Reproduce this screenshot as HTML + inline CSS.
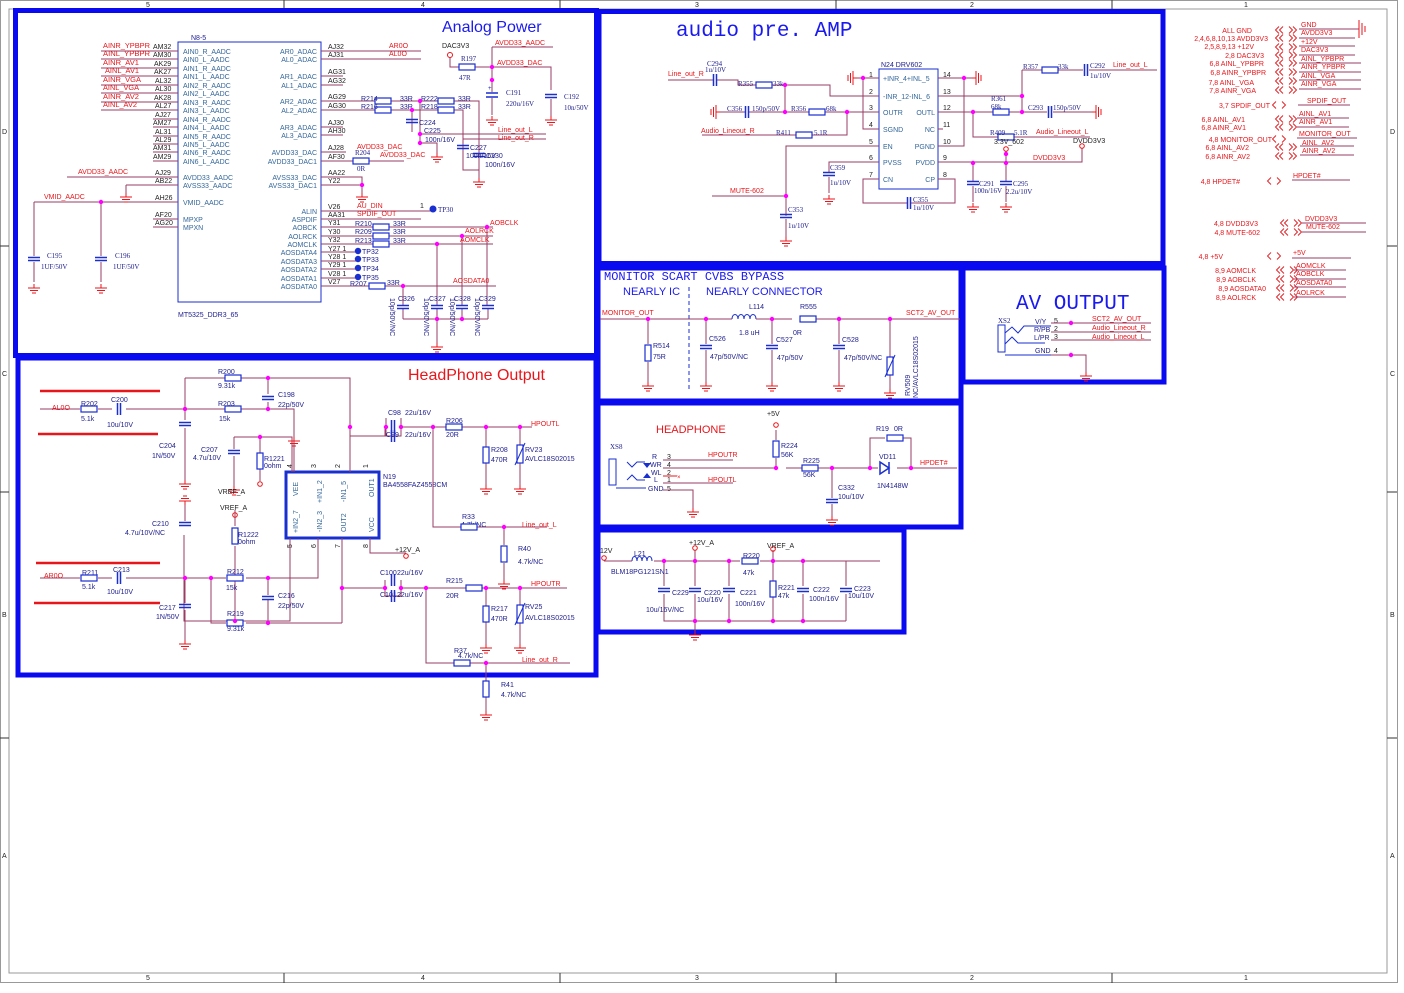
<!DOCTYPE html>
<html><head><meta charset="utf-8"><style>
html,body{margin:0;padding:0;background:#fff;}
svg{display:block;}
text{font-family:"Liberation Sans",sans-serif;}
.r{fill:#e8161b;font-size:7px;}
.b{fill:#1c1c8c;font-size:7px;font-family:"Liberation Serif",serif;}
.p{fill:#34679a;font-size:7px;}
.k{fill:#222;font-size:7px;}
.w{stroke:#9a3c64;stroke-width:1;fill:none;}
.f{fill:none;stroke:#0a0af0;stroke-width:5;}
.cmp{fill:#fff;stroke:#1a2fd0;stroke-width:1.2;}
.cap{stroke:#1a2fd0;stroke-width:1.5;}
</style></head><body>
<svg width="1404" height="993" viewBox="0 0 1404 993" xmlns="http://www.w3.org/2000/svg">
<defs>
<g id="g"><path d="M0,0v4M-6,4h12M-4,6.5h8M-2,9h4" stroke="#e8161b" stroke-width="1" fill="none"/></g>
<g id="rv"><rect x="-3" y="-8" width="6" height="16" class="cmp"/></g>
<g id="rh"><rect x="-8" y="-3" width="16" height="6" class="cmp"/></g>
<g id="cv"><path d="M-6,-1.5h12M-6,1.5h12" class="cap"/></g>
<g id="ch"><path d="M-1.5,-6v12M1.5,-6v12" class="cap"/></g>
<g id="dt"><circle r="2.2" fill="#f0f"/></g>
<g id="gl"><path d="M0,0h-4M-4,-7v14M-6.5,-5v10M-9,-3v6" stroke="#e8161b" fill="none"/></g>
<g id="gr"><path d="M0,0h4M4,-7v14M6.5,-5v10M9,-3v6" stroke="#e8161b" fill="none"/></g>
<g id="c2"><path d="M4,-3.5l-3.5,3.5l3.5,3.5M8,-3.5l-3.5,3.5l3.5,3.5M14,-3.5l3.5,3.5l-3.5,3.5M18,-3.5l3.5,3.5l-3.5,3.5" stroke="#e8161b" stroke-width="0.9" fill="none"/></g>
<g id="c1"><path d="M4,-3.5l-3.5,3.5l3.5,3.5M10,-3.5l3.5,3.5l-3.5,3.5" stroke="#e8161b" stroke-width="0.9" fill="none"/></g>
</defs>
<rect x="0.5" y="0.5" width="1397" height="982" fill="none" stroke="#999"/>
<rect x="9" y="9" width="1378" height="964" fill="none" stroke="#999"/>
<path d="M284,0v9M560,0v9M836,0v9M1112,0v9M284,973v10M560,973v10M836,973v10M1112,973v10M0,246h9M0,492h9M0,738h9M1387,246h10M1387,492h10M1387,738h10" stroke="#333"/>
<text x="146" y="7" class="k" font-size="6">5</text><text x="421" y="7" class="k" font-size="6">4</text><text x="695" y="7" class="k" font-size="6">3</text><text x="970" y="7" class="k" font-size="6">2</text><text x="1244" y="7" class="k" font-size="6">1</text>
<text x="146" y="980" class="k" font-size="6">5</text><text x="421" y="980" class="k" font-size="6">4</text><text x="695" y="980" class="k" font-size="6">3</text><text x="970" y="980" class="k" font-size="6">2</text><text x="1244" y="980" class="k" font-size="6">1</text>
<text x="2" y="134" class="k" font-size="6">D</text><text x="2" y="376" class="k" font-size="6">C</text><text x="2" y="617" class="k" font-size="6">B</text><text x="2" y="858" class="k" font-size="6">A</text>
<text x="1390" y="134" class="k" font-size="6">D</text><text x="1390" y="376" class="k" font-size="6">C</text><text x="1390" y="617" class="k" font-size="6">B</text><text x="1390" y="858" class="k" font-size="6">A</text>

<rect x="15.5" y="10.5" width="581" height="345" class="f"/>
<rect x="599" y="11.5" width="564" height="252" class="f"/>
<rect x="18" y="358" width="578" height="317" class="f"/>
<rect x="598" y="268" width="363" height="133" class="f"/>
<rect x="963" y="268" width="201" height="114" class="f"/>
<rect x="598" y="403" width="363" height="124" class="f"/>
<rect x="598" y="530" width="306" height="102" class="f"/>

<!-- ============ ANALOG POWER ============ -->
<text x="442" y="32" fill="#1a1af0" font-size="16">Analog Power</text>
<rect x="178" y="42" width="143" height="260" fill="none" stroke="#1a2fd0" stroke-width="1"/>
<text x="191" y="40" fill="#1c1c8c" font-size="7">N8-5</text>
<text x="178" y="317" fill="#1c1c8c" font-size="7">MT5325_DDR3_65</text>
<g class="p">
<text x="183" y="54">AIN0_R_AADC</text><text x="183" y="62">AIN0_L_AADC</text><text x="183" y="71">AIN1_R_AADC</text><text x="183" y="79">AIN1_L_AADC</text>
<text x="183" y="88">AIN2_R_AADC</text><text x="183" y="96">AIN2_L_AADC</text><text x="183" y="105">AIN3_R_AADC</text><text x="183" y="113">AIN3_L_AADC</text>
<text x="183" y="122">AIN4_R_AADC</text><text x="183" y="130">AIN4_L_AADC</text><text x="183" y="139">AIN5_R_AADC</text><text x="183" y="147">AIN5_L_AADC</text>
<text x="183" y="155">AIN6_R_AADC</text><text x="183" y="164">AIN6_L_AADC</text>
<text x="183" y="180">AVDD33_AADC</text><text x="183" y="188">AVSS33_AADC</text><text x="183" y="205">VMID_AADC</text>
<text x="183" y="222">MPXP</text><text x="183" y="230">MPXN</text>
</g>
<g class="p" text-anchor="end">
<text x="317" y="54">AR0_ADAC</text><text x="317" y="62">AL0_ADAC</text><text x="317" y="79">AR1_ADAC</text><text x="317" y="88">AL1_ADAC</text>
<text x="317" y="104">AR2_ADAC</text><text x="317" y="113">AL2_ADAC</text><text x="317" y="130">AR3_ADAC</text><text x="317" y="138">AL3_ADAC</text>
<text x="317" y="155">AVDD33_DAC</text><text x="317" y="164">AVDD33_DAC1</text><text x="317" y="180">AVSS33_DAC</text><text x="317" y="188">AVSS33_DAC1</text>
<text x="317" y="214">ALIN</text><text x="317" y="222">ASPDIF</text><text x="317" y="230">AOBCK</text><text x="317" y="239">AOLRCK</text><text x="317" y="247">AOMCLK</text>
<text x="317" y="255">AOSDATA4</text><text x="317" y="264">AOSDATA3</text><text x="317" y="272">AOSDATA2</text><text x="317" y="281">AOSDATA1</text><text x="317" y="289">AOSDATA0</text>
</g>
<path class="w" d="M101,51h77M101,59h77M101,68h77M101,76h77M101,85h77M101,93h77M101,102h77M101,110h77M153,119h25M153,127h25M153,136h25M153,144h25M153,152h25M153,161h25M67,177h111M126,185h52M34,202h144M153,219h25M153,227h25"/>
<g class="r" font-size="6.5"><text x="103" y="48" textLength="47" lengthAdjust="spacingAndGlyphs">AINR_YPBPR</text><text x="103" y="56" textLength="47" lengthAdjust="spacingAndGlyphs">AINL_YPBPR</text><text x="103" y="65" textLength="36" lengthAdjust="spacingAndGlyphs">AINR_AV1</text><text x="105" y="73" textLength="34" lengthAdjust="spacingAndGlyphs">AINL_AV1</text><text x="103" y="82" textLength="38" lengthAdjust="spacingAndGlyphs">AINR_VGA</text><text x="103" y="90" textLength="36" lengthAdjust="spacingAndGlyphs">AINL_VGA</text><text x="103" y="99" textLength="36" lengthAdjust="spacingAndGlyphs">AINR_AV2</text><text x="103" y="107" textLength="34" lengthAdjust="spacingAndGlyphs">AINL_AV2</text>
<text x="78" y="174">AVDD33_AADC</text><text x="44" y="199">VMID_AADC</text></g>
<g class="k" font-size="6.5"><text x="153" y="49">AM32</text><text x="153" y="57">AM30</text><text x="154" y="66">AK29</text><text x="154" y="74">AK27</text><text x="155" y="83">AL32</text><text x="155" y="91">AL30</text><text x="154" y="100">AK28</text><text x="155" y="108">AL27</text><text x="155" y="117">AJ27</text><text x="153" y="125">AM27</text><text x="155" y="134">AL31</text><text x="155" y="142">AL29</text><text x="153" y="150">AM31</text><text x="153" y="159">AM29</text><text x="155" y="175">AJ29</text><text x="155" y="183">AB22</text><text x="155" y="200">AH26</text><text x="155" y="217">AF20</text><text x="155" y="225">AG20</text></g>
<path class="w" d="M126,185v8M34,202v54M101,202v54M34,262v20M101,262v20"/>
<use href="#g" x="126" y="193"/><use href="#dt" x="101" y="202"/>
<use href="#cv" x="34" y="259"/><use href="#cv" x="101" y="259"/><use href="#g" x="34" y="284"/><use href="#g" x="101" y="284"/>
<text x="47" y="258" class="b">C195</text><text x="41" y="269" class="b">1UF/50V</text><text x="115" y="258" class="b">C196</text><text x="113" y="269" class="b">1UF/50V</text>
<!-- right pins -->
<path class="w" d="M321,51h100M321,59h100M321,76h22M321,85h22M321,101h54M391,101h47M454,101h25v77M321,110h54M391,110h47M454,110h9v60h16M321,127h22M321,135h22M321,152h25M321,161h32M369,161h35M321,177h41v16M321,185h41M321,211h112M321,219h100M321,227h52M389,227h104M321,236h52M389,236h104M321,244h52M389,244h104M321,252h37M321,261h37M321,269h37M321,278h37M321,286h48M385,286h111"/>
<path class="w" d="M420,101v42h17v10M412,110v22M420,134h126M463,139h83M487,227v79M462,236v70M437,244v62M403,286v20M403,319h85M437,319v24M403,309v10M437,309v10M462,309v10M488,309v10"/>
<g class="k" font-size="6.5"><text x="328" y="49">AJ32</text><text x="328" y="57">AJ31</text><text x="328" y="74">AG31</text><text x="328" y="83">AG32</text><text x="328" y="99">AG29</text><text x="328" y="108">AG30</text><text x="328" y="125">AJ30</text><text x="328" y="133">AH30</text><text x="328" y="150">AJ28</text><text x="328" y="159">AF30</text><text x="328" y="175">AA22</text><text x="328" y="183">Y22</text><text x="328" y="209">V26</text><text x="328" y="217">AA31</text><text x="328" y="225">Y31</text><text x="328" y="234">Y30</text><text x="328" y="242">Y32</text><text x="328" y="251">Y27  1</text><text x="328" y="259">Y28  1</text><text x="328" y="267">Y29  1</text><text x="328" y="276">V28  1</text><text x="328" y="284">V27</text></g>
<g class="r"><text x="389" y="48">AR0O</text><text x="389" y="56">AL0O</text><text x="357" y="208">AU_DIN</text><text x="357" y="216">SPDIF_OUT</text><text x="490" y="225">AOBCLK</text><text x="465" y="233">AOLRCK</text><text x="460" y="242">AOMCLK</text><text x="453" y="283">AOSDATA0</text>
<text x="357" y="149">AVDD33_DAC</text><text x="380" y="157">AVDD33_DAC</text><text x="495" y="45">AVDD33_AADC</text><text x="497" y="65">AVDD33_DAC</text><text x="498" y="132">Line_out_L</text><text x="498" y="140">Line_out_R</text></g>
<use href="#g" x="362" y="193"/><use href="#dt" x="362" y="185"/>
<use href="#rh" x="361" y="161"/><text x="355" y="155" class="b">R204</text><text x="357" y="171" class="b">0R</text>
<circle cx="433" cy="209" r="3.5" fill="#1a2fd0"/><text x="438" y="212" class="b" font-size="7.5">TP30</text><text x="420" y="208" class="k" font-size="6">1</text>
<circle cx="358" cy="251" r="3.2" fill="#1a2fd0"/><circle cx="358" cy="259" r="3.2" fill="#1a2fd0"/><circle cx="358" cy="268" r="3.2" fill="#1a2fd0"/><circle cx="358" cy="277" r="3.2" fill="#1a2fd0"/>
<g class="b"><text x="362" y="254">TP32</text><text x="362" y="262">TP33</text><text x="362" y="271">TP34</text><text x="362" y="280">TP35</text></g>
<use href="#rh" x="381" y="227"/><use href="#rh" x="381" y="236"/><use href="#rh" x="381" y="244"/><use href="#rh" x="377" y="286"/>
<g class="b"><text x="355" y="226">R210</text><text x="393" y="226">33R</text><text x="355" y="234">R209</text><text x="393" y="234">33R</text><text x="355" y="243">R213</text><text x="393" y="243">33R</text><text x="350" y="286">R207</text><text x="387" y="285">33R</text></g>
<use href="#cv" x="403" y="307"/><use href="#cv" x="437" y="307"/><use href="#cv" x="462" y="307"/><use href="#cv" x="488" y="307"/>
<use href="#g" x="437" y="343"/><use href="#dt" x="487" y="227"/><use href="#dt" x="462" y="236"/><use href="#dt" x="437" y="244"/><use href="#dt" x="403" y="286"/><use href="#dt" x="437" y="319"/><use href="#dt" x="462" y="319"/>
<g class="b"><text x="398" y="301">C326</text><text x="429" y="301">C327</text><text x="454" y="301">C328</text><text x="479" y="301">C329</text></g>
<g class="b" font-size="6.5"><text transform="translate(390,298) rotate(90)">10p/50V/NC</text><text transform="translate(424,298) rotate(90)">10p/50V/NC</text><text transform="translate(450,298) rotate(90)">10p/50V/NC</text><text transform="translate(475,298) rotate(90)">10p/50V/NC</text></g>
<use href="#rh" x="383" y="101"/><use href="#rh" x="383" y="110"/><use href="#rh" x="446" y="101"/><use href="#rh" x="446" y="110"/>
<g class="b"><text x="361" y="101">R214</text><text x="400" y="101">33R</text><text x="361" y="109">R216</text><text x="400" y="109">33R</text><text x="421" y="101">R222</text><text x="458" y="101">33R</text><text x="421" y="109">R218</text><text x="458" y="109">33R</text></g>
<use href="#cv" x="412" y="121"/><use href="#cv" x="463" y="147"/><use href="#cv" x="479" y="155"/><use href="#g" x="437" y="153"/><use href="#g" x="479" y="178"/>
<use href="#dt" x="420" y="101"/><use href="#dt" x="412" y="110"/><use href="#dt" x="420" y="143"/><use href="#dt" x="420" y="134"/>
<g class="b"><text x="419" y="125">C224</text><text x="424" y="133">C225</text><text x="425" y="142">100n/16V</text><text x="470" y="150">C227</text><text x="466" y="158">100n/16V</text><text x="486" y="158">C230</text><text x="485" y="167">100n/16V</text></g>
<circle cx="450" cy="55" r="2.5" fill="none" stroke="#e8161b"/><text x="442" y="48" class="k">DAC3V3</text>
<path class="w" d="M450,58v9h9M475,67h17M492,47h61M492,47v20M492,67h59v23M551,99v17M492,67v25M492,98v17"/>
<use href="#rh" x="467" y="67"/><text x="461" y="61" class="b">R197</text><text x="459" y="80" class="b">47R</text>
<use href="#dt" x="492" y="67"/><use href="#dt" x="492" y="80"/>
<path d="M486,93h12M486,97h12" class="cap"/><text x="488" y="90" fill="#1a2fd0" font-size="6">+</text>
<use href="#cv" x="551" y="96"/><use href="#g" x="492" y="116"/><use href="#g" x="551" y="116"/>
<text x="506" y="95" class="b">C191</text><text x="506" y="106" class="b">220u/16V</text><text x="564" y="99" class="b">C192</text><text x="564" y="110" class="b">10n/50V</text>

<!-- ============ AUDIO PRE AMP ============ -->
<text x="676" y="36" fill="#1a1af0" font-size="21" style="font-family:'Liberation Mono',monospace">audio pre. AMP</text>
<rect x="879" y="69" width="59" height="120" fill="#fff" stroke="#1a2fd0" stroke-width="1"/>
<text x="881" y="67" fill="#1c1c8c" font-size="7">N24  DRV602</text>
<g class="p" font-size="6.3"><text x="883" y="81">+INR_4+INL_5</text><text x="883" y="99">-INR_12-INL_6</text><text x="883" y="115">OUTR</text><text x="883" y="132">SGND</text><text x="883" y="149">EN</text><text x="883" y="165">PVSS</text><text x="883" y="182">CN</text></g>
<g class="p" font-size="6.3" text-anchor="end"><text x="935" y="115">OUTL</text><text x="935" y="132">NC</text><text x="935" y="149">PGND</text><text x="935" y="165">PVDD</text><text x="935" y="182">CP</text></g>
<g class="k" font-size="6.5"><text x="869" y="77">1</text><text x="869" y="94">2</text><text x="869" y="110">3</text><text x="869" y="127">4</text><text x="869" y="144">5</text><text x="869" y="160">6</text><text x="869" y="177">7</text><text x="943" y="77">14</text><text x="943" y="94">13</text><text x="943" y="110">12</text><text x="943" y="127">11</text><text x="943" y="144">10</text><text x="943" y="160">9</text><text x="943" y="177">8</text></g>
<path class="w" d="M857,78h22M863,78v51h16M785,85h45v11h49M720,112h25M749,112h60M825,112h54M785,85v27M847,112v23h-35M796,135h-94M668,80h45M717,80h21v5h18M772,85h13M879,146h-93v70M712,196h74M786,219v18M879,162h-50v10M829,177v16M879,179h-16v24h44M911,203h44v-24h-17"/>
<path class="w" d="M938,78h34M964,78v68h-26M938,96h84M1022,70v42M1022,70h20M1058,70h25M1089,70h68M938,112h55M1009,112h38M1053,112h39M973,112v25h25M1014,137h76M938,162h144v-14M1006,151v12M973,163v18M973,186v16M1006,163v18M1006,186v16M938,129h5"/>
<use href="#gl" x="857" y="78"/><use href="#gl" x="720" y="112"/><use href="#gr" x="972" y="78"/><use href="#gr" x="1092" y="112"/>
<use href="#ch" x="715" y="80"/><text x="707" y="66" class="b">C294</text><text x="705" y="72" class="b">1u/10V</text><text x="668" y="76" class="r">Line_out_R</text>
<use href="#rh" x="764" y="85"/><text x="738" y="86" class="b">R355</text><text x="773" y="86" class="b">33k</text><use href="#dt" x="785" y="85"/>
<use href="#ch" x="747" y="112"/><text x="727" y="111" class="b">C356</text><text x="752" y="111" class="b">150p/50V</text>
<use href="#rh" x="817" y="112"/><text x="791" y="111" class="b">R356</text><text x="826" y="111" class="b">68k</text><use href="#dt" x="785" y="112"/><use href="#dt" x="847" y="112"/>
<use href="#rh" x="804" y="135"/><text x="776" y="135" class="b">R411</text><text x="814" y="135" class="b">5.1R</text><text x="701" y="133" class="r">Audio_Lineout_R</text>
<text x="730" y="193" class="r">MUTE-602</text><use href="#dt" x="786" y="196"/><use href="#cv" x="786" y="216"/><use href="#g" x="786" y="237"/><text x="788" y="212" class="b">C353</text><text x="788" y="228" class="b">1u/10V</text>
<use href="#cv" x="829" y="174"/><use href="#g" x="829" y="195"/><text x="830" y="170" class="b">C359</text><text x="830" y="185" class="b">1u/10V</text>
<use href="#ch" x="909" y="203"/><text x="913" y="202" class="b">C355</text><text x="913" y="210" class="b">1u/10V</text>
<use href="#dt" x="863" y="78"/><use href="#dt" x="964" y="78"/>
<use href="#rh" x="1050" y="70"/><text x="1023" y="69" class="b">R357</text><text x="1058" y="69" class="b">33k</text><use href="#ch" x="1086" y="70"/><text x="1090" y="68" class="b">C292</text><text x="1090" y="78" class="b">1u/10V</text><text x="1113" y="67" class="r">Line_out_L</text>
<use href="#dt" x="1022" y="96"/><use href="#dt" x="1022" y="112"/><use href="#dt" x="973" y="112"/>
<use href="#rh" x="1001" y="112"/><text x="991" y="101" class="b">R361</text><text x="991" y="109" class="b">68k</text>
<use href="#ch" x="1050" y="112"/><text x="1028" y="110" class="b">C293</text><text x="1053" y="110" class="b">150p/50V</text>
<use href="#rh" x="1006" y="137"/><text x="990" y="135" class="b">R409</text><text x="1014" y="135" class="b">5.1R</text><text x="1036" y="134" class="r">Audio_Lineout_L</text>
<text x="994" y="144" class="k">3.3V_602</text><circle cx="1006" cy="149" r="2.3" fill="none" stroke="#e8161b"/><circle cx="1082" cy="146" r="2.3" fill="none" stroke="#e8161b"/><text x="1073" y="143" class="k">DVDD3V3</text>
<text x="1033" y="160" class="r">DVDD3V3</text><use href="#dt" x="973" y="163"/><use href="#dt" x="1006" y="163"/><use href="#dt" x="1006" y="154"/>
<use href="#cv" x="973" y="183"/><use href="#cv" x="1006" y="183"/><use href="#g" x="973" y="203"/><use href="#g" x="1006" y="203"/>
<text x="979" y="186" class="b">C291</text><text x="974" y="193" class="b">100n/16V</text><text x="1013" y="186" class="b">C295</text><text x="1006" y="194" class="b">2.2u/10V</text>

<!-- ============ RIGHT NET LIST ============ -->
<g class="r" text-anchor="end">
<text x="1252" y="33">ALL   GND</text><text x="1268" y="41">2,4,6,8,10,13  AVDD3V3</text><text x="1254" y="49">2,5,8,9,13   +12V</text><text x="1264" y="58">2,8   DAC3V3</text>
<text x="1264" y="66">6,8   AINL_YPBPR</text><text x="1266" y="75">6,8   AINR_YPBPR</text><text x="1254" y="85">7,8   AINL_VGA</text><text x="1256" y="93">7,8   AINR_VGA</text>
<text x="1270" y="108">3,7    SPDIF_OUT</text><text x="1245" y="122">6,8   AINL_AV1</text><text x="1246" y="130">6,8   AINR_AV1</text>
<text x="1272" y="142">4,8  MONITOR_OUT</text><text x="1249" y="150">6,8   AINL_AV2</text><text x="1250" y="159">6,8   AINR_AV2</text>
<text x="1240" y="184">4,8  HPDET#</text><text x="1258" y="226">4,8  DVDD3V3</text><text x="1260" y="235">4,8  MUTE-602</text>
<text x="1223" y="259">4,8  +5V</text><text x="1256" y="273">8,9  AOMCLK</text><text x="1256" y="282">8,9  AOBCLK</text><text x="1266" y="291">8,9  AOSDATA0</text><text x="1256" y="300">8,9  AOLRCK</text>
</g>
<use href="#c2" x="1275" y="30"/><use href="#c2" x="1275" y="38"/><use href="#c2" x="1275" y="47"/><use href="#c2" x="1275" y="55"/><use href="#c2" x="1275" y="63"/><use href="#c2" x="1275" y="72"/><use href="#c2" x="1275" y="81"/><use href="#c2" x="1275" y="90"/>
<use href="#c1" x="1272" y="105"/><use href="#c2" x="1275" y="119"/><use href="#c2" x="1275" y="127"/><use href="#c1" x="1272" y="139"/><use href="#c2" x="1275" y="147"/><use href="#c2" x="1275" y="156"/>
<use href="#c1" x="1267" y="181"/><use href="#c2" x="1280" y="223"/><use href="#c2" x="1280" y="232"/><use href="#c1" x="1267" y="256"/>
<use href="#c2" x="1276" y="270"/><use href="#c2" x="1276" y="279"/><use href="#c2" x="1276" y="288"/><use href="#c2" x="1276" y="297"/>
<g class="r"><text x="1301" y="27">GND</text><text x="1301" y="35">AVDD3V3</text><text x="1301" y="44">+12V</text><text x="1301" y="52">DAC3V3</text><text x="1301" y="61">AINL_YPBPR</text><text x="1301" y="69">AINR_YPBPR</text><text x="1301" y="78">AINL_VGA</text><text x="1301" y="86">AINR_VGA</text>
<text x="1307" y="103">SPDIF_OUT</text><text x="1299" y="116">AINL_AV1</text><text x="1299" y="124">AINR_AV1</text><text x="1299" y="136">MONITOR_OUT</text><text x="1302" y="145">AINL_AV2</text><text x="1302" y="153">AINR_AV2</text>
<text x="1293" y="178">HPDET#</text><text x="1305" y="221">DVDD3V3</text><text x="1306" y="229">MUTE-602</text><text x="1293" y="255">+5V</text>
<text x="1296" y="268">AOMCLK</text><text x="1296" y="276">AOBCLK</text><text x="1296" y="285">AOSDATA0</text><text x="1296" y="295">AOLRCK</text></g>
<path class="w" d="M1299,29h60M1299,38h56M1299,46h56M1299,55h56M1299,63h62M1299,72h62M1299,80h62M1299,89h62M1298,105h52M1297,118h52M1297,127h52M1297,138h60M1300,146h54M1300,155h54M1292,180h58M1302,223h64M1302,232h64M1292,258h59M1294,270h52M1294,279h52M1294,287h52M1294,297h52"/>
<path d="M1359,20v18M1362,23v12M1365,26v6" stroke="#e8161b"/>

<!-- ============ HEADPHONE OUTPUT ============ -->
<text x="408" y="380" fill="#e8161b" font-size="16">HeadPhone Output</text>
<path d="M40,391h120M38,434h120M36,563h124M34,603h126" stroke="#e8161b" stroke-width="2.5"/>
<rect x="286" y="472" width="93" height="66" fill="#fff" stroke="#1a2fd0" stroke-width="3"/>
<g class="p" font-size="7.5"><text transform="translate(298,496) rotate(-90)">VEE</text><text transform="translate(322,503) rotate(-90)">+IN1_2</text><text transform="translate(346,502) rotate(-90)">-IN1_5</text><text transform="translate(374,497) rotate(-90)">OUT1</text>
<text transform="translate(298,533) rotate(-90)">+IN2_7</text><text transform="translate(322,532) rotate(-90)">-IN2_3</text><text transform="translate(346,532) rotate(-90)">OUT2</text><text transform="translate(374,532) rotate(-90)">VCC</text></g>
<text x="383" y="479" fill="#1c1c8c" font-size="7">N19</text><text x="383" y="487" fill="#1c1c8c" font-size="7">BA4558FAZ4558CM</text>
<g class="k" font-size="6"><text transform="translate(292,468) rotate(-90)">4</text><text transform="translate(316,468) rotate(-90)">3</text><text transform="translate(340,468) rotate(-90)">2</text><text transform="translate(368,468) rotate(-90)">1</text><text transform="translate(292,548) rotate(-90)">5</text><text transform="translate(316,548) rotate(-90)">6</text><text transform="translate(340,548) rotate(-90)">7</text><text transform="translate(368,548) rotate(-90)">8</text></g>
<path class="w" d="M40,409h40M98,409h14M126,409h59M185,409h40M241,409h53V472M185,378h40M241,378h109V472M185,378v42M185,428v52M268,378v16M268,402v7M234,437h58v35M234,437v12M234,456v30M260,437v16M260,469v12M40,578h40M98,578h14M126,578h100M246,578h72v-40M185,578v25M185,610v30M211,578v45h15M246,623h96M342,538v85M268,578v17M268,600v23M342,588h43M401,588h25M290,538v83h-106V535M235,510v16M235,546v75M370,538v15h36M350,418v18h36M386,418v18M401,418v18M401,427h45M462,427h70M486,427v20M486,463v22M520,427v18M520,463v22M433,427v100h28M477,527h70M504,527v18M504,563v17M426,588v75h28M470,663h100M486,663v18M486,697v14M426,588h40M482,588h85M486,588v18M486,622v22M520,588v18M520,622v22M385,580v16h16v-16M385,426v10h16v-10"/>
<path class="w" d="M294,445v27"/>
<use href="#rh" x="89" y="409"/><use href="#ch" x="119" y="409"/><use href="#rh" x="233" y="409"/><use href="#rh" x="233" y="378"/><use href="#cv" x="268" y="398"/><use href="#cv" x="185" y="424"/><use href="#cv" x="234" y="452"/>
<use href="#rv" x="260" y="461"/><circle cx="260" cy="484" r="2.3" fill="none" stroke="#e8161b"/>
<use href="#g" x="185" y="480"/><use href="#g" x="234" y="486"/><use href="#g" x="294" y="437"/>
<use href="#dt" x="185" y="409"/><use href="#dt" x="268" y="378"/><use href="#dt" x="268" y="409"/><use href="#dt" x="260" y="437"/><use href="#dt" x="350" y="427"/><use href="#dt" x="386" y="427"/><use href="#dt" x="401" y="427"/><use href="#dt" x="433" y="427"/><use href="#dt" x="486" y="427"/><use href="#dt" x="520" y="427"/><use href="#dt" x="504" y="527"/>
<g class="b"><text x="81" y="406">R202</text><text x="81" y="421">5.1k</text><text x="111" y="402">C200</text><text x="107" y="427">10u/10V</text><text x="218" y="374">R200</text><text x="218" y="388">9.31k</text><text x="278" y="397">C198</text><text x="278" y="407">22p/50V</text><text x="218" y="406">R203</text><text x="219" y="421">15k</text>
<text x="159" y="448">C204</text><text x="152" y="458">1N/50V</text><text x="201" y="452">C207</text><text x="193" y="460">4.7u/10V</text><text x="264" y="461">R1221</text><text x="264" y="468">0ohm</text><text x="152" y="526">C210</text><text x="125" y="535">4.7u/10V/NC</text><text x="238" y="537">R1222</text><text x="238" y="544">0ohm</text>
<text x="82" y="575">R211</text><text x="82" y="589">5.1k</text><text x="113" y="572">C213</text><text x="107" y="594">10u/10V</text><text x="227" y="574">R212</text><text x="226" y="590">15k</text><text x="278" y="598">C216</text><text x="278" y="608">22p/50V</text><text x="159" y="610">C217</text><text x="156" y="619">1N/50V</text><text x="227" y="616">R219</text><text x="227" y="631">9.31k</text>
<text x="388" y="415">C98</text><text x="405" y="415">22u/16V</text><text x="386" y="437">C99</text><text x="405" y="437">22u/16V</text><text x="446" y="423">R206</text><text x="446" y="437">20R</text><text x="491" y="452">R208</text><text x="491" y="462">470R</text><text x="525" y="452">RV23</text><text x="525" y="461">AVLC18S02015</text>
<text x="462" y="519">R33</text><text x="461" y="527">4.7k/NC</text><text x="518" y="551">R40</text><text x="518" y="564">4.7k/NC</text><text x="380" y="575">C100</text><text x="397" y="575">22u/16V</text><text x="380" y="597">C101</text><text x="397" y="597">22u/16V</text><text x="446" y="583">R215</text><text x="446" y="598">20R</text><text x="491" y="611">R217</text><text x="491" y="621">470R</text><text x="525" y="609">RV25</text><text x="525" y="620">AVLC18S02015</text><text x="454" y="653">R37</text><text x="458" y="658">4.7k/NC</text><text x="501" y="687">R41</text><text x="501" y="697">4.7k/NC</text></g>
<g class="r"><text x="52" y="410">AL0O</text><text x="44" y="578">AR0O</text><text x="531" y="426">HPOUTL</text><text x="522" y="527">Line_out_L</text><text x="531" y="586">HPOUTR</text><text x="522" y="662">Line_out_R</text></g>
<g class="k"><text x="218" y="494">VREF_A</text><text x="220" y="510">VREF_A</text><text x="395" y="552">+12V_A</text></g>
<circle cx="235" cy="515" r="2.3" fill="none" stroke="#e8161b"/><circle cx="406" cy="556" r="2.3" fill="none" stroke="#e8161b"/>
<use href="#rv" x="235" y="536"/><use href="#cv" x="185" y="606"/><use href="#cv" x="268" y="598"/><use href="#g" x="185" y="640"/>
<use href="#rh" x="235" y="578"/><use href="#rh" x="235" y="623"/><use href="#rh" x="89" y="578"/><use href="#ch" x="119" y="578"/>
<use href="#dt" x="185" y="578"/><use href="#dt" x="211" y="578"/><use href="#dt" x="268" y="578"/><use href="#dt" x="268" y="623"/><use href="#dt" x="342" y="588"/><use href="#dt" x="385" y="588"/><use href="#dt" x="401" y="588"/><use href="#dt" x="426" y="588"/><use href="#dt" x="486" y="588"/><use href="#dt" x="520" y="588"/><use href="#dt" x="486" y="663"/><use href="#dt" x="235" y="621"/>
<use href="#ch" x="393" y="426"/><use href="#ch" x="393" y="436"/><use href="#ch" x="393" y="580"/><use href="#ch" x="393" y="596"/>
<use href="#rh" x="454" y="427"/><use href="#rv" x="486" y="455"/><use href="#g" x="486" y="485"/><use href="#g" x="520" y="485"/>
<rect x="517" y="445" width="6" height="18" class="cmp"/><path d="M515,465l10,-22" stroke="#1a2fd0"/>
<use href="#rh" x="469" y="527"/><use href="#rv" x="504" y="554"/><use href="#g" x="504" y="580"/>
<use href="#rh" x="474" y="588"/><use href="#rv" x="486" y="614"/><use href="#g" x="486" y="644"/><use href="#g" x="520" y="644"/>
<rect x="517" y="605" width="6" height="18" class="cmp"/><path d="M515,625l10,-22" stroke="#1a2fd0"/>
<use href="#rh" x="462" y="663"/><use href="#rv" x="486" y="689"/><use href="#g" x="486" y="711"/>
<use href="#cv" x="185" y="524"/><path class="w" d="M185,505v16"/><use href="#g" x="185" y="505" transform="rotate(180 185 505)"/>

<!-- ============ MONITOR ============ -->
<text x="604" y="280" fill="#1a1af0" font-size="12" style="font-family:'Liberation Mono',monospace">MONITOR  SCART  CVBS  BYPASS</text>
<text x="623" y="295" fill="#1a1af0" font-size="11">NEARLY IC</text><text x="706" y="295" fill="#1a1af0" font-size="11">NEARLY CONNECTOR</text>
<path d="M689,287v104" stroke="#1a2fd0" stroke-dasharray="4,3"/>
<text x="602" y="315" class="r">MONITOR_OUT</text><text x="906" y="315" class="r">SCT2_AV_OUT</text>
<path class="w" d="M600,319h132M772,319h20M810,319h150M648,319v25M648,362v20M706,319v25M706,350v32M772,319v25M772,350v32M839,319v25M839,350v32M890,319v70"/>
<path d="M732,319c0,-6 6,-6 6,0c0,-6 6,-6 6,0c0,-6 6,-6 6,0c0,-6 6,-6 6,0" stroke="#1a2fd0" fill="none"/><path class="w" d="M756,319h16"/>
<use href="#rv" x="648" y="353"/><use href="#cv" x="706" y="347"/><use href="#cv" x="772" y="347"/><use href="#cv" x="839" y="347"/><use href="#rh" x="808" y="319"/>
<rect x="887" y="357" width="6" height="18" class="cmp"/><path d="M885,377l10,-22" stroke="#1a2fd0"/>
<use href="#g" x="648" y="382"/><use href="#g" x="706" y="382"/><use href="#g" x="772" y="382"/><use href="#g" x="839" y="382"/><use href="#g" x="890" y="389"/>
<use href="#dt" x="648" y="319"/><use href="#dt" x="706" y="319"/><use href="#dt" x="772" y="319"/><use href="#dt" x="839" y="319"/><use href="#dt" x="890" y="319"/>
<g class="b"><text x="653" y="348">R514</text><text x="653" y="359">75R</text><text x="749" y="309">L114</text><text x="739" y="335">1.8 uH</text><text x="709" y="341">C526</text><text x="710" y="359">47p/50V/NC</text><text x="776" y="342">C527</text><text x="777" y="360">47p/50V</text><text x="800" y="309">R555</text><text x="793" y="335">0R</text><text x="842" y="342">C528</text><text x="844" y="360">47p/50V/NC</text>
<text transform="translate(910,396) rotate(-90)">RV509</text><text transform="translate(918,398) rotate(-90)">NC/AVLC18S02015</text></g>

<!-- ============ AV OUTPUT ============ -->
<text x="1016" y="309" fill="#1a1af0" font-size="21" style="font-family:'Liberation Mono',monospace">AV  OUTPUT</text>
<rect x="998" y="325" width="7" height="27" fill="#fff" stroke="#1a2fd0"/>
<text x="998" y="323" class="b">XS2</text>
<path d="M1005,355h46M1005,333l7,-6l6,6l6,-7h27M1005,344l7,-7l6,6h27" stroke="#1a2fd0" fill="none"/>
<g class="b" font-size="6"><text x="1035" y="324">V/Y</text><text x="1034" y="332">R/PB</text><text x="1034" y="340">L/PR</text><text x="1035" y="353">GND</text></g>
<g class="k" font-size="6"><text x="1054" y="323">5</text><text x="1054" y="331">2</text><text x="1054" y="339">3</text><text x="1054" y="353">4</text></g>
<path class="w" d="M1051,323h100M1051,332h100M1051,340h100M1051,355h35v17"/>
<use href="#dt" x="1071" y="323"/><use href="#dt" x="1071" y="355"/><use href="#g" x="1086" y="372"/>
<g class="r"><text x="1092" y="321">SCT2_AV_OUT</text><text x="1092" y="330">Audio_Lineout_R</text><text x="1092" y="339">Audio_Lineout_L</text></g>

<!-- ============ HEADPHONE JACK ============ -->
<text x="656" y="433" fill="#e8161b" font-size="11">HEADPHONE</text>
<text x="610" y="449" class="b">XS8</text>
<rect x="609" y="459" width="7" height="26" fill="#fff" stroke="#1a2fd0"/>
<path d="M616,488h30M627,462l5,5l5,-5h8M627,480l5,-5l5,5h8" stroke="#1a2fd0" fill="none"/>
<path d="M643,463l4,5l4,-5zM643,478l4,-5l4,5z" fill="#1a2fd0"/>
<g class="b" font-size="5.5"><text x="652" y="459">R</text><text x="650" y="467">WR</text><text x="651" y="475">WL</text><text x="654" y="482">L</text><text x="648" y="491">GND</text></g>
<g class="k" font-size="6"><text x="667" y="459">3</text><text x="667" y="467">4</text><text x="667" y="475">2</text><text x="667" y="482">1</text><text x="667" y="491">5</text></g>
<path class="w" d="M663,460h70M663,468h113M786,468h16M818,468h52M663,483h70M663,490h30v18M776,468v-10M776,440v-10M832,468v30M832,504v12M870,468v-30h15M903,438h8v30M870,468h8M897,468h60"/>
<path d="M663,476h14" stroke="#e8161b"/><text x="677" y="479" fill="#e8161b" font-size="6">×</text>
<circle cx="776" cy="425" r="2.3" fill="none" stroke="#e8161b"/><text x="767" y="416" class="k">+5V</text>
<use href="#rv" x="776" y="449"/><use href="#rh" x="810" y="468"/><use href="#cv" x="832" y="501"/><use href="#g" x="832" y="516"/><use href="#g" x="693" y="508"/>
<rect x="887" y="435" width="16" height="6" class="cmp"/>
<path d="M880,462v12l9,-6zM889,462v12" fill="#fff" stroke="#1a2fd0" stroke-width="1.5"/>
<use href="#dt" x="776" y="468"/><use href="#dt" x="832" y="468"/><use href="#dt" x="870" y="468"/><use href="#dt" x="911" y="468"/>
<g class="b"><text x="781" y="448">R224</text><text x="781" y="457">56K</text><text x="803" y="463">R225</text><text x="803" y="477">56K</text><text x="838" y="490">C332</text><text x="838" y="499">10u/10V</text><text x="876" y="431">R19</text><text x="894" y="431">0R</text><text x="879" y="459">VD11</text><text x="877" y="488">1N4148W</text></g>
<g class="r"><text x="708" y="457">HPOUTR</text><text x="708" y="482">HPOUTL</text><text x="920" y="465">HPDET#</text></g>

<!-- ============ POWER ============ -->
<text x="600" y="553" class="k">12V</text><circle cx="604" cy="558" r="2.3" fill="none" stroke="#e8161b"/>
<path class="w" d="M604,561h28M654,561h86M760,561h120M664,561v25M664,594v27h182M695,561v25M695,594v27M729,561v25M729,594v27M773,561v20M773,596v25M803,561v25M803,594v27M846,561v25M846,594v27M695,621v10M695,550v11M773,550v11"/>
<path d="M632,561c0,-6 5,-6 5,0c0,-6 5,-6 5,0c0,-6 5,-6 5,0c0,-6 5,-6 5,0" stroke="#1a2fd0" fill="none"/>
<circle cx="695" cy="548" r="2.3" fill="none" stroke="#e8161b"/><circle cx="773" cy="549" r="2.3" fill="none" stroke="#e8161b"/>
<text x="689" y="545" class="k">+12V_A</text><text x="767" y="548" class="k">VREF_A</text>
<use href="#rh" x="750" y="561"/><use href="#rv" x="773" y="589"/>
<use href="#cv" x="664" y="590"/><use href="#cv" x="695" y="590"/><use href="#cv" x="729" y="590"/><use href="#cv" x="803" y="590"/><use href="#cv" x="846" y="590"/>
<use href="#g" x="695" y="631"/>
<use href="#dt" x="664" y="561"/><use href="#dt" x="695" y="561"/><use href="#dt" x="729" y="561"/><use href="#dt" x="773" y="561"/><use href="#dt" x="803" y="561"/><use href="#dt" x="695" y="621"/><use href="#dt" x="729" y="621"/><use href="#dt" x="773" y="621"/><use href="#dt" x="803" y="621"/>
<g class="b"><text x="634" y="556">L21</text><text x="611" y="574">BLM18PG121SN1</text><text x="743" y="558">R220</text><text x="743" y="575">47k</text><text x="672" y="595">C229</text><text x="704" y="595">C220</text><text x="697" y="602">10u/16V</text><text x="740" y="595">C221</text><text x="735" y="606">100n/16V</text><text x="646" y="612">10u/16V/NC</text><text x="778" y="590">R221</text><text x="778" y="598">47k</text><text x="813" y="592">C222</text><text x="809" y="601">100n/16V</text><text x="854" y="591">C223</text><text x="848" y="598">10u/10V</text></g>
</svg>
</body></html>
